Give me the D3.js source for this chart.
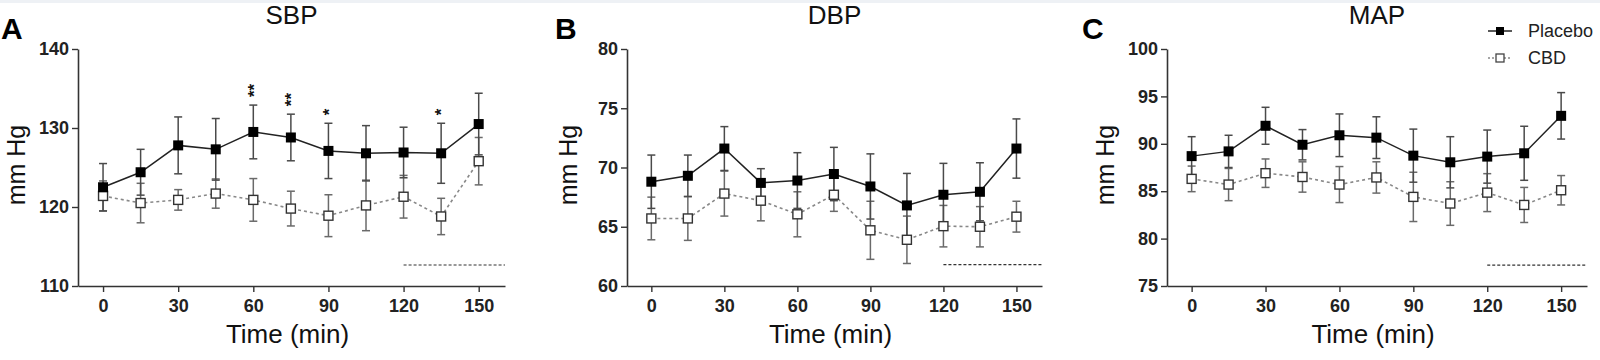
<!DOCTYPE html>
<html><head><meta charset="utf-8">
<script src="https://cdn.jsdelivr.net/npm/d3@7"></script>
<style>body{margin:0;background:#fff}svg{display:block}text{font-family:"Liberation Sans",Arial,sans-serif}</style>
</head><body><svg id="c" width="1600" height="360"></svg>
<script>
// ---- data ----
const times = [0, 15, 30, 45, 60, 75, 90, 105, 120, 135, 150];
const xTicks = [0, 30, 60, 90, 120, 150];

const sbpPlacebo    = [122.5, 124.4, 127.8, 127.3, 129.5, 128.8, 127.1, 126.8, 126.9, 126.8, 130.5];
const sbpPlaceboSem = [3.0, 2.9, 3.6, 3.9, 3.4, 2.95, 3.5, 3.5, 3.2, 3.8, 3.9];
const sbpCbd        = [121.4, 120.5, 120.9, 121.7, 120.9, 119.8, 118.9, 120.2, 121.3, 118.8, 125.8];
const sbpCbdSem     = [1.9, 2.5, 1.3, 1.85, 2.7, 2.2, 2.65, 3.2, 2.7, 2.3, 3.0];
const sbpTicks      = [110, 120, 130, 140];

const dbpPlacebo    = [68.8, 69.3, 71.6, 68.7, 68.9, 69.45, 68.4, 66.8, 67.7, 67.95, 71.6];
const dbpPlaceboSem = [2.25, 1.75, 1.85, 1.2, 2.35, 2.25, 2.75, 2.7, 2.65, 2.45, 2.5];
const dbpCbd        = [65.7, 65.7, 67.8, 67.2, 66.05, 67.7, 64.7, 63.9, 65.05, 65.0, 65.85];
const dbpCbdSem     = [1.8, 1.85, 1.9, 1.7, 1.9, 1.4, 2.45, 2.0, 1.75, 1.7, 1.3];
const dbpTicks      = [60, 65, 70, 75, 80];

const mapPlacebo    = [88.7, 89.2, 91.9, 89.9, 90.9, 90.65, 88.75, 88.05, 88.65, 89.0, 92.95];
const mapPlaceboSem = [2.05, 1.7, 1.95, 1.6, 2.25, 2.2, 2.8, 2.7, 2.8, 2.85, 2.45];
const mapCbd        = [86.3, 85.7, 86.9, 86.5, 85.7, 86.45, 84.4, 83.7, 84.85, 83.55, 85.1];
const mapCbdSem     = [1.35, 1.7, 1.5, 1.6, 1.9, 1.65, 2.6, 2.3, 2.0, 1.85, 1.55];
const mapTicks      = [75, 80, 85, 90, 95, 100];

const sbpStarTimes  = [60, 75, 90, 135];
const sbpStarLabels = ["**", "**", "*", "*"];

const dashStart = 120;                 // dashed reference bar from 120 min to axis end
const dashLevels = [112.66, 61.8, 77.2];

const panelLetters = ["A", "B", "C"];
const panelTitles = ["SBP", "DBP", "MAP"];
const seriesNames = ["Placebo", "CBD"];

// ---- layout ----
const svg = d3.select("#c");
svg.append("rect").attr("x",0).attr("y",0).attr("width",1600).attr("height",3).attr("fill","#eef1f5");

const panels = [
  {left:78, right:505, ticks:sbpTicks, p:sbpPlacebo, ps:sbpPlaceboSem, c:sbpCbd, cs:sbpCbdSem, letterX:1, ylabX:25, stars:true},
  {left:627, right:1042, ticks:dbpTicks, p:dbpPlacebo, ps:dbpPlaceboSem, c:dbpCbd, cs:dbpCbdSem, letterX:555, ylabX:577},
  {left:1167, right:1587, ticks:mapTicks, p:mapPlacebo, ps:mapPlaceboSem, c:mapCbd, cs:mapCbdSem, letterX:1082, ylabX:1114}
];
const plotTop = 49, plotBottom = 286;
const axisColor = "#333";

panels.forEach((P, i) => {
  const g = svg.append("g");
  const x = d3.scaleLinear().domain([-10, 160.5]).range([P.left, P.right]);
  const y = d3.scaleLinear().domain([P.ticks[0], P.ticks[P.ticks.length-1]]).range([plotBottom, plotTop]);

  // axes
  const xa = g.append("g").attr("transform", `translate(0,${plotBottom})`)
    .call(d3.axisBottom(x).tickValues(xTicks).tickSizeInner(6).tickSizeOuter(0).tickPadding(6));
  const ya = g.append("g").attr("transform", `translate(${P.left},0)`)
    .call(d3.axisLeft(y).tickValues(P.ticks).tickSizeInner(6).tickSizeOuter(0).tickPadding(3));
  [xa, ya].forEach(a => {
    a.select(".domain").attr("stroke", axisColor).attr("stroke-width", 1.6);
    a.selectAll(".tick line").attr("stroke", axisColor).attr("stroke-width", 1.4);
    a.selectAll(".tick text").attr("fill", "#222").style("font-size", "18px").style("font-weight", "bold")
      .style("font-family", '"Liberation Sans",Arial,sans-serif');
  });
  xa.selectAll(".tick text").attr("dy", "0.8em");

  // titles
  const cx = (P.left + P.right) / 2;
  g.append("text").attr("x", cx).attr("y", 24).attr("text-anchor", "middle")
    .style("font-size", "26px").attr("fill", "#111").text(panelTitles[i]);
  g.append("text").attr("x", cx - 4).attr("y", 343).attr("text-anchor", "middle")
    .style("font-size", "26px").attr("fill", "#111").text("Time (min)");
  g.append("text").attr("transform", `translate(${P.ylabX},165) rotate(-90)`).attr("text-anchor", "middle")
    .style("font-size", "25px").attr("fill", "#111").text("mm Hg");
  g.append("text").attr("x", P.letterX).attr("y", 39)
    .style("font-size", "30px").style("font-weight", "bold").attr("fill", "#000").text(panelLetters[i]);

  // dashed reference bar
  g.append("line").attr("x1", x(dashStart)).attr("x2", P.right)
    .attr("y1", y(dashLevels[i])).attr("y2", y(dashLevels[i]))
    .attr("stroke", "#333").attr("stroke-width", 1.2).attr("stroke-dasharray", "3,2");

  const cap = 4;
  const errBars = (vals, sems, color) => {
    const eg = g.append("g").attr("stroke", color).attr("stroke-width", 1.5).attr("fill", "none");
    times.forEach((t, k) => {
      const xx = x(t), y1 = y(vals[k] + sems[k]), y0 = y(vals[k] - sems[k]);
      eg.append("line").attr("x1", xx).attr("x2", xx).attr("y1", y1).attr("y2", y0);
      eg.append("line").attr("x1", xx - cap).attr("x2", xx + cap).attr("y1", y1).attr("y2", y1);
      eg.append("line").attr("x1", xx - cap).attr("x2", xx + cap).attr("y1", y0).attr("y2", y0);
    });
  };
  errBars(P.c, P.cs, "#6a6a6a");
  errBars(P.p, P.ps, "#4a4a4a");

  const line = d3.line().x((d, k) => x(times[k])).y(d => y(d));
  // CBD
  g.append("path").datum(P.c).attr("d", line).attr("fill", "none")
    .attr("stroke", "#888").attr("stroke-width", 1.6).attr("stroke-dasharray", "3,3");
  const s = 9;
  g.selectAll(null).data(P.c).join("rect")
    .attr("x", (d, k) => x(times[k]) - s/2).attr("y", d => y(d) - s/2)
    .attr("width", s).attr("height", s).attr("fill", "#fff").attr("stroke", "#333").attr("stroke-width", 1.4);
  // Placebo
  g.append("path").datum(P.p).attr("d", line).attr("fill", "none")
    .attr("stroke", "#222").attr("stroke-width", 1.5);
  const s2 = 10;
  g.selectAll(null).data(P.p).join("rect")
    .attr("x", (d, k) => x(times[k]) - s2/2).attr("y", d => y(d) - s2/2)
    .attr("width", s2).attr("height", s2).attr("fill", "#000");

  if (P.stars) {
    // significance marks, rotated so that "**" stacks vertically as in the source
    sbpStarTimes.forEach((t, j) => {
      const k = times.indexOf(t);
      const yc = y(P.p[k] + P.ps[k]);
      g.append("text")
        .attr("transform", `translate(${x(t)},${yc - 8}) rotate(-90)`)
        .attr("text-anchor", "start").attr("dy", "0.72em")
        .style("font-size", "17px").style("font-weight", "bold").attr("fill", "#111")
        .attr("y", -6)
        .text(sbpStarLabels[j]);
    });
  }
});

// legend
const lg = svg.append("g");
const legY = [31, 58];
lg.append("line").attr("x1", 1488).attr("x2", 1512).attr("y1", legY[0]).attr("y2", legY[0]).attr("stroke", "#222").attr("stroke-width", 1.5);
lg.append("rect").attr("x", 1496).attr("y", legY[0] - 4).attr("width", 8).attr("height", 8).attr("fill", "#000");
lg.append("line").attr("x1", 1488).attr("x2", 1512).attr("y1", legY[1]).attr("y2", legY[1]).attr("stroke", "#888").attr("stroke-width", 1.5).attr("stroke-dasharray", "2,2");
lg.append("rect").attr("x", 1496).attr("y", legY[1] - 4).attr("width", 8).attr("height", 8).attr("fill", "#fff").attr("stroke", "#444").attr("stroke-width", 1.3);
seriesNames.forEach((n, i) => {
  lg.append("text").attr("x", 1528).attr("y", legY[i] + 6).style("font-size", "18px").attr("fill", "#222").text(n);
});
</script></body></html>
